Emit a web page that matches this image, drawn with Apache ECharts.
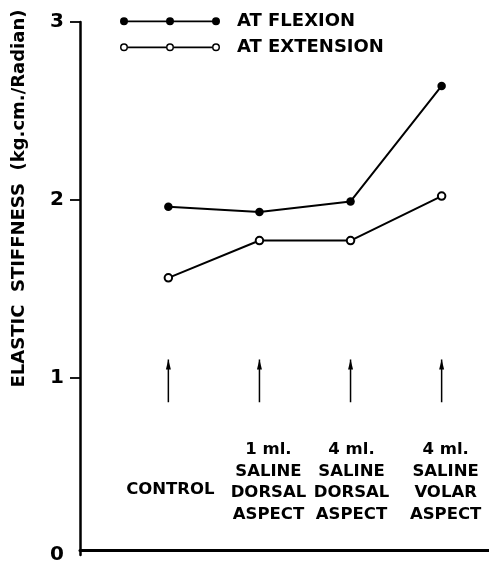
<!DOCTYPE html>
<html>
<head>
<meta charset="utf-8">
<script src="https://cdn.jsdelivr.net/npm/echarts@6/dist/echarts.min.js"></script>
<style>
html,body{margin:0;padding:0;background:#fff;}
#chart{width:489px;height:565px;}
</style>
</head>
<body>
<div id="chart"></div>
<script>
// ---- data ----
const categories = ['CONTROL', '1 ml.\nSALINE\nDORSAL\nASPECT', '4 ml.\nSALINE\nDORSAL\nASPECT', '4 ml.\nSALINE\nVOLAR\nASPECT'];
const flexion = [1.96, 1.93, 1.99, 2.64];
const extension = [1.56, 1.77, 1.77, 2.02];
const seriesNames = ['AT FLEXION', 'AT EXTENSION'];
const yTickValues = [1, 2, 3];
const yLabelValues = [0, 1, 2, 3];
const arrowFrom = 0.86;
const arrowTo = 1.10;
const categoryLabelY = 0.41;

// ---- style helpers ----
const FONT = 'DejaVu Sans';
const labelNudge = [[2, 8], [9, 0], [1, 0], [4, 0]];

const filledIcon = 'path://M0,4 A4,4 0 1,1 8,4 A4,4 0 1,1 0,4 Z ' +
  'M46,4 A4,4 0 1,1 54,4 A4,4 0 1,1 46,4 Z ' +
  'M92,4 A4,4 0 1,1 100,4 A4,4 0 1,1 92,4 Z ' +
  'M4,3.1 L96,3.1 L96,4.9 L4,4.9 Z';
function ring(cx) {
  return 'M' + (cx - 4) + ',4 A4,4 0 1,1 ' + (cx + 4) + ',4 A4,4 0 1,1 ' + (cx - 4) + ',4 Z ' +
    'M' + (cx - 2.5) + ',4 A2.5,2.5 0 1,0 ' + (cx + 2.5) + ',4 A2.5,2.5 0 1,0 ' + (cx - 2.5) + ',4 Z ';
}
const hollowIcon = 'path://' + ring(4) + ring(50) + ring(96) +
  'M8,3.1 L46,3.1 L46,4.9 L8,4.9 Z M54,3.1 L92,3.1 L92,4.9 L54,4.9 Z';

const xs = categories.map((c, i) => i + 1);

const series = [
  {
    name: seriesNames[0], type: 'line',
    data: flexion.map((v, i) => [xs[i], v]),
    symbol: 'circle', symbolSize: 8.5,
    itemStyle: { color: '#000' },
    lineStyle: { color: '#000', width: 2 },
    z: 5
  },
  {
    name: seriesNames[1], type: 'line',
    data: extension.map((v, i) => [xs[i], v]),
    symbol: 'emptyCircle', symbolSize: 7.5,
    itemStyle: { color: '#000', borderColor: '#000', borderWidth: 1.7 },
    lineStyle: { color: '#000', width: 2 },
    z: 5
  }
];
xs.forEach((x, i) => {
  series.push({
    type: 'line', name: 'arrow' + i,
    data: [
      { value: [x, arrowFrom], symbol: 'none' },
      { value: [x, arrowTo], symbol: 'triangle', symbolSize: [5, 10], symbolOffset: [0, 5] }
    ],
    symbol: 'triangle',
    itemStyle: { color: '#000' },
    lineStyle: { color: '#000', width: 1.5 },
    silent: true
  });
});
series.push({
  type: 'scatter', name: 'labels',
  data: xs.map((x, i) => ({
    value: [x, categoryLabelY],
    label: { offset: labelNudge[i] }
  })),
  symbolSize: 0,
  silent: true,
  itemStyle: { opacity: 1, color: '#000' },
  label: {
    show: true, position: 'inside',
    formatter: p => categories[p.dataIndex],
    fontFamily: FONT, fontWeight: 'bold', fontSize: 16.5, lineHeight: 21.7,
    color: '#000', opacity: 1, textBorderWidth: 0, textBorderColor: 'transparent',
    align: 'center', verticalAlign: 'middle'
  }
});

const chart = echarts.init(document.getElementById('chart'), null, { renderer: 'canvas' });
chart.setOption({
  animation: false,
  backgroundColor: '#fff',
  grid: { left: 80, right: 0, top: 22, bottom: 7, containLabel: false },
  legend: {
    orient: 'vertical', left: 115, top: 6.3,
    itemWidth: 100, itemHeight: 8, itemGap: 6,
    selectedMode: false,
    itemStyle: { color: '#000', borderWidth: 0 },
    textStyle: { fontFamily: FONT, fontSize: 18, fontWeight: 'bold', color: '#000', lineHeight: 20, padding: [0, 0, 0, 12] },
    data: [
      { name: seriesNames[0], icon: filledIcon },
      { name: seriesNames[1], icon: hollowIcon }
    ]
  },
  xAxis: {
    type: 'value', min: 0.03, max: 4.52,
    position: 'bottom', offset: -5,
    axisLine: { onZero: false, lineStyle: { color: '#000', width: 3 } },
    axisTick: { show: false }, axisLabel: { show: false }, splitLine: { show: false }
  },
  yAxis: {
    type: 'value', min: 0, max: 3, interval: 1,
    name: 'ELASTIC  STIFFNESS  (kg.cm./Radian)',
    nameLocation: 'middle', nameGap: 52,
    nameTextStyle: { fontFamily: FONT, fontSize: 18, fontWeight: 'bold', color: '#000', padding: [0, 0, 0, 180] },
    axisLine: { show: true, onZero: false, lineStyle: { color: '#000', width: 2.5 } },
    axisTick: { show: true, customValues: yTickValues, length: 10, lineStyle: { color: '#000', width: 1.8 } },
    axisLabel: { customValues: yLabelValues, fontFamily: FONT, fontSize: 20, fontWeight: 'bold', color: '#000', margin: 16 },
    splitLine: { show: false }
  },
  series: series
});
</script>
</body>
</html>
